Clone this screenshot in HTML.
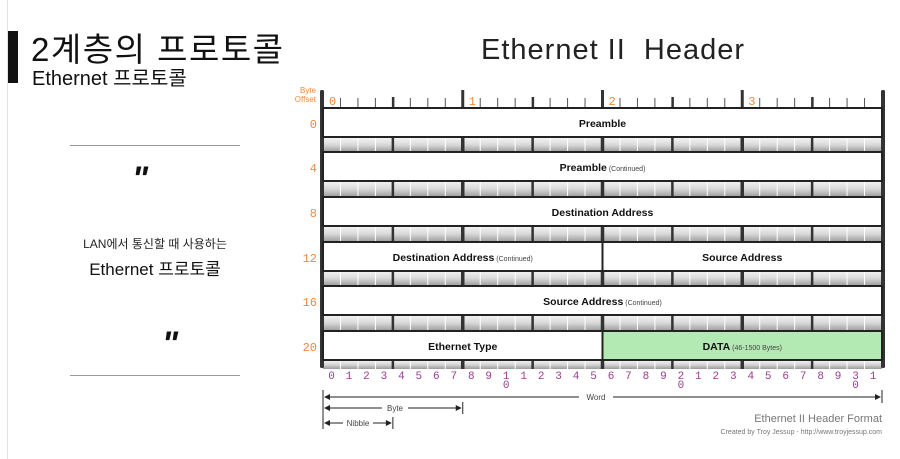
<!DOCTYPE html>
<html><head><meta charset="utf-8"><style>
body{margin:0;background:#fff;width:900px;height:459px;overflow:hidden;position:relative;font-family:"Liberation Sans","Noto Sans CJK KR",sans-serif}
.a{position:absolute;white-space:nowrap}
</style></head><body>
<div class="a" style="left:7px;top:0;width:1px;height:459px;background:#e4e4e4"></div>
<div class="a" style="left:8px;top:31px;width:10px;height:52px;background:#111"></div>
<div class="a" style="left:31px;top:23px;font-size:33px;letter-spacing:1.5px;color:#111">2계층의 프로토콜</div>
<div class="a" style="left:32px;top:62px;font-size:20px;color:#111">Ethernet 프로토콜</div>
<div class="a" style="left:70px;top:145px;width:170px;height:1px;background:#999"></div>
<div class="a" style="left:70px;top:375px;width:170px;height:1px;background:#999"></div>
<div class="a" style="left:132px;top:160px;font-size:34px;font-weight:bold;font-style:italic;color:#111">"</div>
<div class="a" style="left:162px;top:325px;font-size:34px;font-weight:bold;font-style:italic;color:#111">"</div>
<div class="a" style="left:0;width:310px;text-align:center;top:235px;font-size:12px;color:#222">LAN에서 통신할 때 사용하는</div>
<div class="a" style="left:0;width:310px;text-align:center;top:255px;font-size:17px;color:#111">Ethernet 프로토콜</div>
<div class="a" style="left:481px;top:34px;font-size:29px;letter-spacing:1px;color:#222">Ethernet II&nbsp; Header</div>
<svg id="s" class="a" style="left:0;top:0" width="900" height="459" xmlns="http://www.w3.org/2000/svg">
<defs><linearGradient id="g" x1="0" y1="0" x2="0" y2="1"><stop offset="0" stop-color="#f4f4f4"/><stop offset="0.5" stop-color="#d8d8d8"/><stop offset="1" stop-color="#9a9a9a"/></linearGradient></defs>
</svg>
<script>
(function(){
var s=document.getElementById('s'),ns='http://www.w3.org/2000/svg';
function e(t,a,txt){var n=document.createElementNS(ns,t);for(var k in a)n.setAttribute(k,a[k]);if(txt!==undefined)n.textContent=txt;s.appendChild(n);return n;}
var L=323,R=882,W=(R-L)/32;
var tops=[108,152,197,242,286,331],H=29;
var bands=[[138,152],[181,197],[226,242],[271,286],[315,331],[360,369]];
bands.forEach(function(b){e('rect',{x:L,y:b[0],width:R-L,height:b[1]-b[0],fill:'url(#g)'});
 for(var i=1;i<32;i++){var x=L+i*W;var w=i%8==0?3.5:(i%4==0?2.5:1);e('rect',{x:x-w/2,y:b[0],width:w,height:b[1]-b[0],fill:i%4==0?'#333':'#fff'});}
});
for(var i=1;i<32;i++){var x=L+i*W;if(i%8==0)e('rect',{x:x-1.5,y:90,width:3,height:18,fill:'#333'});else if(i%4==0)e('rect',{x:x-1,y:97,width:2.5,height:11,fill:'#333'});else e('rect',{x:x-0.5,y:98,width:1,height:10,fill:'#555'});}
e('rect',{x:L-3,y:90,width:4,height:278,fill:'#333',rx:1.5});
e('rect',{x:R-1,y:90,width:4,height:278,fill:'#333',rx:1.5});
var rows=[[['Preamble','',0,32]],[['Preamble','(Continued)',0,32]],[['Destination Address','',0,32]],[['Destination Address','(Continued)',0,16],['Source Address','',16,32]],[['Source Address','(Continued)',0,32]],[['Ethernet Type','',0,16],['DATA','(46-1500 Bytes)',16,32,'#b3eab3']]];
var offs=['0','4','8','12','16','20'];
rows.forEach(function(r,k){var y=tops[k];
 r.forEach(function(c){var x1=L+c[2]*W,x2=L+c[3]*W;e('rect',{x:x1,y:y,width:x2-x1,height:H,fill:c[4]||'#fff',stroke:'#222','stroke-width':2});
  var t=e('text',{x:(x1+x2)/2,y:y+19,'text-anchor':'middle','font-size':'10.5','font-weight':'bold','font-family':'Liberation Sans, sans-serif',fill:'#111'});
  var a=document.createElementNS(ns,'tspan');a.textContent=c[0];t.appendChild(a);
  if(c[1]){var b=document.createElementNS(ns,'tspan');b.setAttribute('font-size','7');b.setAttribute('font-weight','normal');b.setAttribute('fill','#444');b.textContent=' '+c[1];t.appendChild(b);}
 });
 e('text',{x:317,y:y+20,'text-anchor':'end','font-size':'12','font-family':'Liberation Mono, monospace',fill:'#f08a3c'},offs[k]);
});
e('text',{x:316,y:93,'text-anchor':'end','font-size':'8','font-family':'Liberation Sans',fill:'#f08a3c'},'Byte');
e('text',{x:316,y:102,'text-anchor':'end','font-size':'8','font-family':'Liberation Sans',fill:'#f08a3c'},'Offset');
['0','1','2','3'].forEach(function(d,i){e('text',{x:L+i*8*W+6,y:105,'font-size':'12','font-family':'Liberation Mono, monospace',fill:'#f08a3c'},d);});
for(var i=0;i<32;i++){var x=L+i*W+8.5;var lbl=String(i%10);if(i==10||i==20||i==30){lbl=String(i/10);e('text',{x:x,y:388,'text-anchor':'middle','font-size':'11','font-family':'Liberation Mono, monospace',fill:'#9b3d8f'},'0');}
 e('text',{x:x,y:379,'text-anchor':'middle','font-size':'11','font-family':'Liberation Mono, monospace',fill:'#9b3d8f'},lbl);}
function dim(y,x2,label,lx,tw){e('line',{x1:L+2,y1:y,x2:x2-2,y2:y,stroke:'#222','stroke-width':1});
 e('rect',{x:lx-tw/2,y:y-6,width:tw,height:12,fill:'#fff'});
 e('text',{x:lx,y:y+3,'text-anchor':'middle','font-size':'8','font-family':'Liberation Sans',fill:'#444'},label);
 e('path',{d:'M'+(L+1)+' '+y+' l6 -3 v6 z',fill:'#222'});e('path',{d:'M'+(x2-1)+' '+y+' l-6 -3 v6 z',fill:'#222'});
 e('line',{x1:x2,y1:y-6,x2:x2,y2:y+6,stroke:'#222','stroke-width':1});}
e('line',{x1:L,y1:390,x2:L,y2:429,stroke:'#222','stroke-width':1});
dim(397,R,'Word',596,34);dim(408,L+8*W,'Byte',395,26);dim(423,L+4*W,'Nibble',358,30);
e('line',{x1:R,y1:390,x2:R,y2:403,stroke:'#222','stroke-width':1});
e('text',{x:R,y:422,'text-anchor':'end','font-size':'11','font-family':'Liberation Sans',fill:'#777'},'Ethernet II Header Format');
e('text',{x:R,y:434,'text-anchor':'end','font-size':'7','font-family':'Liberation Sans',fill:'#777'},'Created by Troy Jessup - http://www.troyjessup.com');
})();
</script>
</body></html>
